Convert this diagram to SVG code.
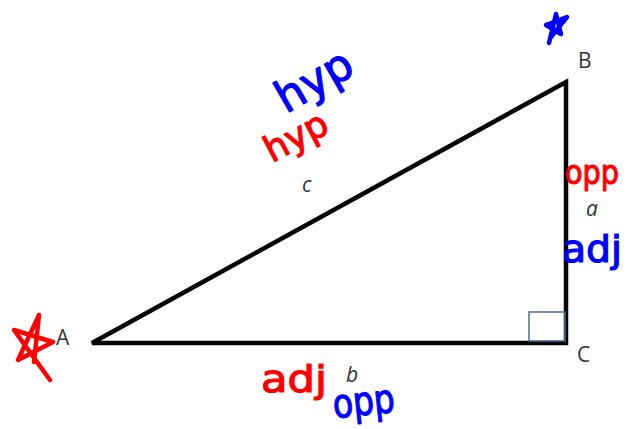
<svg xmlns="http://www.w3.org/2000/svg" width="628" height="429" viewBox="0 0 628 429">
<style>
.lbl{font-family:"Open Sans","Liberation Sans",sans-serif;font-size:21px;fill:#333}
.it{font-family:"Open Sans","Liberation Sans",sans-serif;font-size:21px;font-style:italic;fill:#333}
.hw{font-family:"DejaVu Sans","Liberation Sans",sans-serif;stroke-width:1.2;stroke-linejoin:round}
.red{fill:#ff0000;stroke:#ff0000}
.blue{fill:#0000ff;stroke:#0000ff}
.star{fill:none;stroke-width:4.5;stroke-linecap:round;stroke-linejoin:round}
</style>
<rect width="628" height="429" fill="#fff"/>
<g id="connectors">
<polygon points="92,343 566,82 566,343" fill="none" stroke="#000" stroke-width="4.5" stroke-linejoin="miter"/>
<rect x="529" y="312" width="36" height="29" fill="none" stroke="#4d6f8f" stroke-width="1.5"/>
</g>
<g id="A"><text class="lbl" x="56" y="345">A</text></g>
<g id="B"><text class="lbl" x="578" y="68">B</text></g>
<g id="C"><text class="lbl" x="577" y="362">C</text></g>
<g id="side-c"><text class="it" x="302" y="192">c</text></g>
<g id="side-a"><text class="it" x="586" y="216">a</text></g>
<g id="side-b"><text class="it" x="346" y="382">b</text></g>
<g id="hyp-blue"><text class="hw blue" font-size="44" transform="translate(286,114) rotate(-30)">hyp</text></g>
<g id="hyp-red"><text class="hw red" font-size="36" transform="translate(272,163) rotate(-28)">hyp</text></g>
<g id="opp-red"><text class="hw red" font-size="34" x="565" y="184" textLength="54" lengthAdjust="spacingAndGlyphs">opp</text></g>
<g id="adj-blue"><text class="hw blue" font-size="38" x="562" y="262" textLength="60" lengthAdjust="spacingAndGlyphs">adj</text></g>
<g id="adj-red"><text class="hw red" font-size="38" x="261" y="392" textLength="66" lengthAdjust="spacingAndGlyphs">adj</text></g>
<g id="opp-blue"><text class="hw blue" font-size="40" x="333" y="415" textLength="62" lengthAdjust="spacingAndGlyphs" transform="rotate(-6 364 405)">opp</text></g>
<g id="star-blue"><path class="star" stroke="#0000ff" d="M556,14 L549,43 M546,25 L567,17 L551,37 M556,14 L561,34 L546,25"/></g>
<g id="star-red"><path class="star" stroke="#ff0000" d="M39,315 L18,360 L53,342 L14,330 L50,380 M39,315 L34,362"/></g>
</svg>
